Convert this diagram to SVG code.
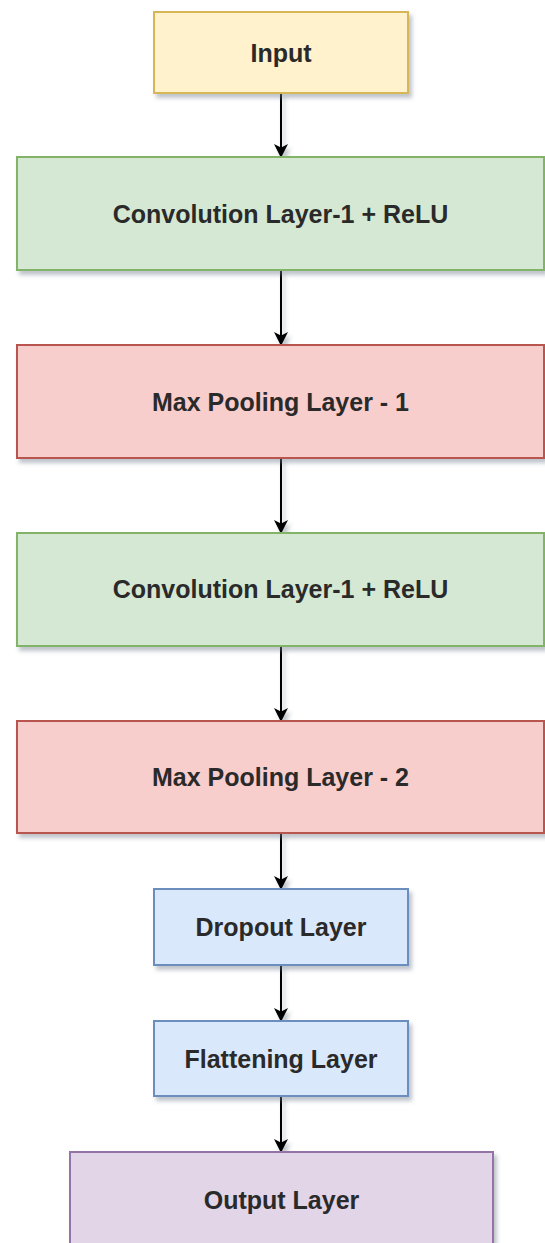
<svg xmlns="http://www.w3.org/2000/svg" width="545" height="1243" viewBox="0 0 545 1243">
  <defs>
    <filter id="shadow" x="-5%" y="-5%" width="115%" height="120%">
      <feDropShadow dx="3" dy="4" stdDeviation="2" flood-color="#6f7a8a" flood-opacity="0.45"/>
    </filter>
    <!-- lines have a zero-width bbox, so their shadow uses user-space bounds -->
    <filter id="edgeShadow" filterUnits="userSpaceOnUse" x="0" y="0" width="545" height="1243">
      <feDropShadow dx="3" dy="4" stdDeviation="2" flood-color="#6f7a8a" flood-opacity="0.45"/>
    </filter>
    <marker id="arrow" viewBox="0 0 14 14" refX="13" refY="7" markerWidth="14" markerHeight="14" markerUnits="userSpaceOnUse" orient="auto">
      <path d="M0,0 L14,7 L0,14 L3.5,7 Z" fill="#000"/>
    </marker>
  </defs>
  <style>
    .box { stroke-width: 2; filter: url(#shadow); }
    .yellow { fill: #fff2cc; stroke: #d6b656; }
    .green { fill: #d5e8d4; stroke: #82b366; }
    .red { fill: #f8cecc; stroke: #b85450; }
    .blue { fill: #dae8fc; stroke: #6c8ebf; }
    .purple { fill: #e1d5e7; stroke: #9673a6; }
    .label { font-family: "Liberation Sans", Arial, sans-serif; font-size: 25px; font-weight: bold; fill: #2a2a2a; text-anchor: middle; }
    .edge { stroke: #000; stroke-width: 2; fill: none; marker-end: url(#arrow); }
  </style>
  <rect width="545" height="1243" fill="#ffffff"/>

  <!-- connectors -->
  <g id="edges" filter="url(#edgeShadow)">
    <line class="edge" x1="281" y1="93" x2="281" y2="157"/>
    <line class="edge" x1="281" y1="270" x2="281" y2="345"/>
    <line class="edge" x1="281" y1="458" x2="281" y2="533"/>
    <line class="edge" x1="281" y1="646" x2="281" y2="721"/>
    <line class="edge" x1="281" y1="833" x2="281" y2="889"/>
    <line class="edge" x1="281" y1="965" x2="281" y2="1021"/>
    <line class="edge" x1="281" y1="1096" x2="281" y2="1152"/>
  </g>

  <g id="input">
    <rect class="box yellow" x="154" y="12" width="254" height="81"/>
    <text class="label" x="281" y="61.5">Input</text>
  </g>
  <g id="conv1">
    <rect class="box green" x="17" y="157" width="527" height="113"/>
    <text class="label" x="280.5" y="222.5">Convolution Layer-1 + ReLU</text>
  </g>
  <g id="pool1">
    <rect class="box red" x="17" y="345" width="527" height="113"/>
    <text class="label" x="280.5" y="410.5">Max Pooling Layer - 1</text>
  </g>
  <g id="conv2">
    <rect class="box green" x="17" y="533" width="527" height="113"/>
    <text class="label" x="280.5" y="598">Convolution Layer-1 + ReLU</text>
  </g>
  <g id="pool2">
    <rect class="box red" x="17" y="721" width="527" height="112"/>
    <text class="label" x="280.5" y="786">Max Pooling Layer - 2</text>
  </g>
  <g id="dropout">
    <rect class="box blue" x="154" y="889" width="254" height="76"/>
    <text class="label" x="281" y="936">Dropout Layer</text>
  </g>
  <g id="flatten">
    <rect class="box blue" x="154" y="1021" width="254" height="75"/>
    <text class="label" x="281" y="1067.5">Flattening Layer</text>
  </g>
  <g id="output">
    <rect class="box purple" x="70" y="1152" width="423" height="100"/>
    <text class="label" x="281.5" y="1209">Output Layer</text>
  </g>
</svg>
